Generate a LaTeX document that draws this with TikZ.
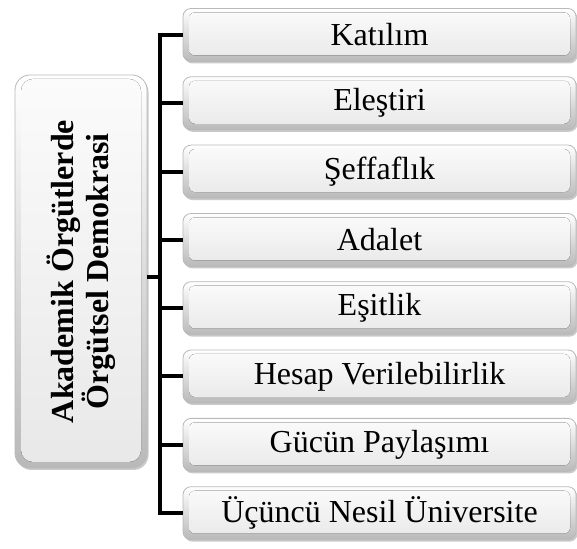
\documentclass[tikz,border=0pt]{standalone}
\usepackage{fontspec}
\setmainfont{Liberation Serif}
\usetikzlibrary{shadows}
\tikzset{
  bevel/.style={path picture={
    \fill[rounded corners=#1, top color=gray!3, bottom color=gray!18]
      ([xshift=6pt,yshift=-4pt]path picture bounding box.north west) rectangle
      ([xshift=-6pt,yshift=6pt]path picture bounding box.south east);}},
  itembox/.style={rounded corners=8pt, minimum width=393pt, minimum height=53pt,
    inner sep=0pt, draw=gray!55, line width=0.8pt, top color=white, bottom color=gray!55,
    bevel=6pt,
    drop shadow={shadow xshift=1.5pt, shadow yshift=-2pt, opacity=0.35, fill=gray!80!black},
    font=\fontsize{32}{34}\selectfont, text=black},
  rootbox/.style={rounded corners=15pt, minimum width=132pt, minimum height=393pt,
    inner sep=0pt, draw=gray!55, line width=0.8pt, top color=white, bottom color=gray!55,
    bevel=12pt,
    drop shadow={shadow xshift=1.5pt, shadow yshift=-2pt, opacity=0.35, fill=gray!80!black}},
  conn/.style={line width=4pt, black, line join=miter}
}
\begin{document}
\begin{tikzpicture}[x=1pt,y=1pt]
\useasboundingbox (0,0) rectangle (577,548);
\node[rootbox] (root) at (81,276.5) {};
\node[rotate=90, align=center, font=\bfseries\fontsize{32}{30}\selectfont] (roottext) at (root.center) {Akademik Örgütlerde\\Örgütsel Demokrasi};
\coordinate (trunk) at (160,271);
\node[itembox] (k1) at (379.5,513) {Katılım};
\node[itembox] (k2) at (379.5,444.7) {Eleştiri};
\node[itembox] (k3) at (379.5,376.4) {Şeffaflık};
\node[itembox] (k4) at (379.5,308) {Adalet};
\node[itembox] (k5) at (379.5,239.8) {Eşitlik};
\node[itembox] (k6) at (379.5,171.5) {Hesap Verilebilirlik};
\node[itembox] (k7) at (379.5,103.1) {Gücün Paylaşımı};
\node[itembox] (k8) at (379.5,34.8) {Üçüncü Nesil Üniversite};
\draw[conn] (root.east |- trunk) -- (trunk);
\draw[conn] (k1.west) -| (trunk) |- (k8.west);
\foreach \k in {k2,k3,k4,k5,k6,k7} {
  \draw[conn] (trunk |- \k.west) -- (\k.west);
}
\end{tikzpicture}
\end{document}
